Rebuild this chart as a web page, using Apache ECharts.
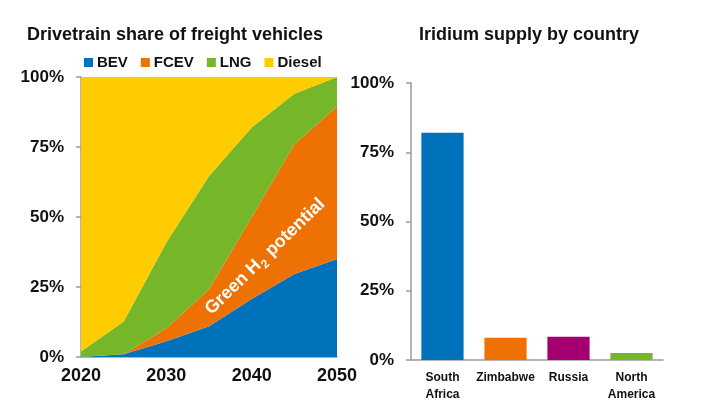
<!DOCTYPE html>
<html><head><meta charset="utf-8">
<script src="https://cdn.jsdelivr.net/npm/echarts@6/dist/echarts.min.js"></script>
<style>html,body{margin:0;padding:0;background:#fff}#c{width:716px;height:410px}</style>
</head><body><div id="c"></div>
<script>
const years = ['2020', '2025', '2030', '2035', '2040', '2045', '2050'];
const bev = [0, 1, 5.6, 11, 20.7, 29.6, 35];
const fcev = [0, 0, 4.7, 13.2, 29.3, 46.4, 54.5];
const lng = [2, 11.7, 30.6, 40.4, 32, 18, 10.5];
const diesel = [98, 87.3, 59.1, 35.4, 18, 6, 0];
const countries = ['South\nAfrica', 'Zimbabwe', 'Russia', 'North\nAmerica'];
const iridium = [82, 8, 8.4, 2.5];
const yTicks = [0, 25, 50, 75, 100];

const C = {blue:'#0072BC', orange:'#EE7203', green:'#76B72A', yellow:'#FFCC00', magenta:'#A5006F'};
const FONT = 'Liberation Sans';

function areaSeries(name, arr, color){
  return {name, type:'line', stack:'s', data:arr, showSymbol:false, symbol:'none',
    lineStyle:{width:0, color}, itemStyle:{color}, areaStyle:{color, opacity:1}, z:2};
}
const yAx = (gi)=>({type:'value', gridIndex:gi, min:yTicks[0], max:yTicks[yTicks.length-1], interval:25,
  axisLine:{show:true, lineStyle:{color:'#9a9a9a', width:1.5}},
  axisTick:{show:true, length:5, lineStyle:{color:'#9a9a9a', width:1.5}},
  splitLine:{show:false},
  axisLabel:{formatter:v=>v+'%', fontFamily:FONT, fontWeight:'bold', fontSize:17, color:'#111', margin:17}});

const chart = echarts.init(document.getElementById('c'));
chart.setOption({
  animation:false,
  title:[
    {text:'Drivetrain share of freight vehicles', left:170, top:21, textAlign:'center',
     textStyle:{fontFamily:FONT, fontWeight:'bold', fontSize:18, color:'#111'}},
    {text:'Iridium supply by country', left:524, top:21, textAlign:'center',
     textStyle:{fontFamily:FONT, fontWeight:'bold', fontSize:18, color:'#111'}}
  ],
  legend:{left:79, top:50, icon:'rect', itemWidth:9, itemHeight:9, itemGap:13,
    data:['BEV','FCEV','LNG','Diesel'],
    textStyle:{fontFamily:FONT, fontWeight:'bold', fontSize:15, color:'#111', padding:[0,0,0,-1]}},
  grid:[
    {left:81, top:77, width:256, height:280},
    {left:411, top:83, width:252, height:277}
  ],
  xAxis:[
    {type:'category', gridIndex:0, data:years, boundaryGap:false,
     axisLine:{show:true, lineStyle:{color:'#9a9a9a', width:1.5}},
     axisTick:{show:false}, splitLine:{show:false},
     axisLabel:{interval:1, fontFamily:FONT, fontWeight:'bold', fontSize:18, color:'#111', margin:10}},
    {type:'category', gridIndex:1, data:countries,
     axisLine:{show:true, lineStyle:{color:'#9a9a9a', width:1.5}},
     axisTick:{show:false},
     axisLabel:{fontFamily:FONT, fontWeight:'bold', fontSize:12, color:'#111', margin:9, lineHeight:17, interval:0}}
  ],
  yAxis:[yAx(0), yAx(1)],
  series:[
    areaSeries('BEV', bev, C.blue),
    areaSeries('FCEV', fcev, C.orange),
    areaSeries('LNG', lng, C.green),
    areaSeries('Diesel', diesel, C.yellow),
    {type:'bar', xAxisIndex:1, yAxisIndex:1, barWidth:'67%',
     data:iridium.map((v,i)=>({value:v, itemStyle:{color:[C.blue,C.orange,C.magenta,C.green][i]}}))}
  ]
});
// annotation position: between categories 2040 and 2045 (fraction 0.34), at 35.5%
const p4 = chart.convertToPixel({xAxisIndex:0, yAxisIndex:0}, [4, 35.5]);
const p5 = chart.convertToPixel({xAxisIndex:0, yAxisIndex:0}, [5, 35.5]);
const px = p4[0] + 0.34 * (p5[0] - p4[0]);
chart.setOption({graphic:[{type:'text', x:px, y:p4[1], rotation:44*Math.PI/180, z:10,
  style:{text:'{a|Green H}{s|2}{a| potential}', align:'center', verticalAlign:'middle', fill:'#fff',
    rich:{a:{fontFamily:FONT, fontWeight:'bold', fontSize:18, fill:'#fff', lineHeight:21, verticalAlign:'top'},
          s:{fontFamily:FONT, fontWeight:'bold', fontSize:12, fill:'#fff', lineHeight:14, padding:[9,1,0,1], verticalAlign:'bottom'}}}}]});
</script></body></html>
